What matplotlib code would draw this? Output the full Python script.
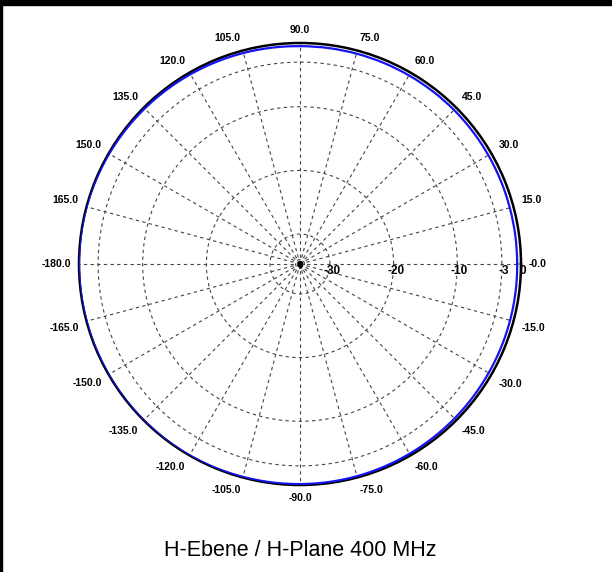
import numpy as np
import matplotlib.pyplot as plt
from matplotlib.patches import Rectangle

# measured pattern (dB, 0 = max) every 15 degrees, from 0 to 345
angles_deg = [0, 15, 30, 45, 60, 75, 90, 105, 120, 135, 150, 165,
              180, 195, 210, 225, 240, 255, 270, 285, 300, 315, 330, 345]
level_db = [-0.6, -0.6, -0.55, -0.5, -0.5, -0.5, -0.5, -0.4, -0.3, -0.2, -0.1, 0.0,
            0.0, 0.0, 0.0, 0.0, 0.0, -0.1, -0.15, -0.2, -0.3, -0.4, -0.5, -0.55]

ring_db = [-34, -30, -20, -10, -3]
ring_labels = ['-30', '-20', '-10', '-3', '0']
ring_label_pos = [-30, -20, -10, -3, 0]
angle_ticks = np.arange(0, 360, 15)
angle_labels = ['-0.0', '15.0', '30.0', '45.0', '60.0', '75.0', '90.0', '105.0',
                '120.0', '135.0', '150.0', '165.0', '-180.0', '-165.0', '-150.0',
                '-135.0', '-120.0', '-105.0', '-90.0', '-75.0', '-60.0', '-45.0',
                '-30.0', '-15.0']

rmin, rmax = -34.7, 0.0

plt.rcParams['font.family'] = ['Liberation Sans', 'DejaVu Sans']
fig = plt.figure(figsize=(6.12, 5.72), dpi=100)
ax = fig.add_axes([79 / 612, (308 - 221) / 572, 442 / 612, 442 / 572],
                  projection='polar')
ax.set_ylim(rmin, rmax)
ax.set_xticks([])
ax.set_yticks([])
ax.grid(False)
ax.spines['polar'].set_linewidth(1.8)
ax.spines['polar'].set_color('black')

t = np.linspace(0, 2 * np.pi, 400)
for r in ring_db:
    ax.plot(t, np.full_like(t, r), color='#444444', lw=0.8, ls=(0, (3, 3)))
for a in angle_ticks:
    ax.plot([np.radians(a)] * 2, [rmin, rmax], color='#444444', lw=0.8,
            ls=(0, (3, 3)))

ax.plot([0], [rmin], marker='s', color='black', ms=2.5, zorder=6)

th = np.radians(angles_deg + [360])
lv = level_db + [level_db[0]]
pattern, = ax.plot(th, lv, color='#1414f0', lw=1.6, zorder=5)
# draw the segments as arcs, not chords
pattern.get_path()._interpolation_steps = 40

for lab, r in zip(ring_labels, ring_label_pos):
    ax.annotate(lab, xy=(0, r), xytext=(2, -7), textcoords='offset pixels',
                ha='center', va='center', fontsize=8.5, fontweight='bold',
                annotation_clip=False)

R = 229 / 221
for a, lab in zip(angle_ticks, angle_labels):
    c, s = np.cos(np.radians(a)), np.sin(np.radians(a))
    ha = 'left' if c > 0.1 else ('right' if c < -0.1 else 'center')
    va = 'bottom' if s > 0.1 else ('top' if s < -0.1 else 'center')
    ax.text(0.5 + 0.5 * R * c, 0.5 + 0.5 * R * s, lab, transform=ax.transAxes,
            ha=ha, va=va, fontsize=7.5, fontweight='bold')

fig.text(300 / 612, 1 - 551 / 572, 'H-Ebene / H-Plane 400 MHz',
         ha='center', va='center', fontsize=15.5)

fig.patches.append(Rectangle((0, 1 - 5 / 572), 1, 5 / 572, color='black',
                             transform=fig.transFigure, figure=fig))
fig.patches.append(Rectangle((0, 0), 2 / 612, 1, color='black',
                             transform=fig.transFigure, figure=fig))

fig.savefig('out.png', dpi=100)
